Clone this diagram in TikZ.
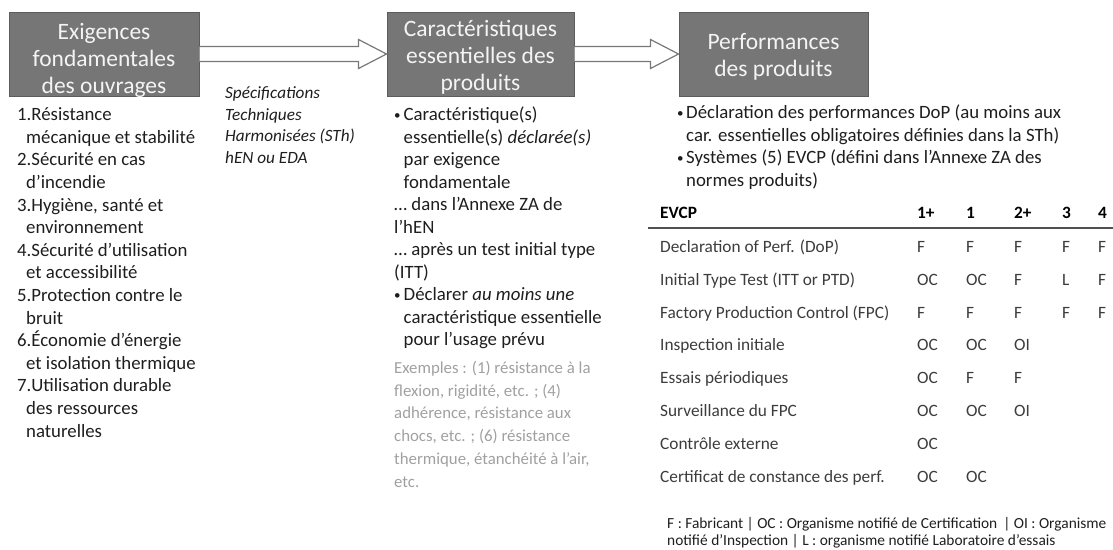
\documentclass[tikz,border=0pt]{standalone}
\usepackage{fontspec}
\setmainfont{Carlito}
\usetikzlibrary{calc}

\definecolor{boxfill}{RGB}{118,118,118}
\definecolor{boxline}{RGB}{92,92,92}
\definecolor{boxtext}{RGB}{244,244,244}
\definecolor{arrowline}{RGB}{120,120,120}
\definecolor{bodytext}{RGB}{30,30,30}
\definecolor{tabletext}{RGB}{60,60,60}
\definecolor{lighttext}{RGB}{160,160,160}
\definecolor{rulecolor}{RGB}{80,80,80}

% open block arrow from the right side of one box to the left side of the next
\newcommand\drawblockarrow[2]{%
  \filldraw[blockarrow]
    ($(#1.east)+(0,-7.5)$) -- ($(#2.west)+(-28,-7.5)$) -- ($(#2.west)+(-28,-14.5)$)
    -- (#2.west) -- ($(#2.west)+(-28,14.5)$) -- ($(#2.west)+(-28,7.5)$)
    -- ($(#1.east)+(0,7.5)$);}
% small list bullet followed by its indent
\newcommand\listbullet[1]{\makebox[#1][l]{\raisebox{1.2pt}{\fontsize{13}{13}\selectfont •}}}

\begin{document}
\begin{tikzpicture}[x=1pt,y=-1pt,
  headbox/.style={draw=boxline, line width=1pt, fill=boxfill,
    minimum width=#1, minimum height=84pt, inner sep=0pt},
  headtext/.style={anchor=north, inner sep=0pt, align=center, text=boxtext,
    font=\fontsize{23.5}{27}\selectfont},
  blockarrow/.style={draw=arrowline, fill=white, line width=1.2pt, line join=miter},
  bodyblock/.style={anchor=north west, inner sep=0pt, align=left, text=bodytext,
    font=\fontsize{18.8}{#1}\selectfont},
  noteblock/.style={anchor=north west, inner sep=0pt, align=left, text=bodytext,
    font=\fontsize{17.2}{21.8}\selectfont\itshape},
  exampleblock/.style={anchor=north west, inner sep=0pt, align=left, text=lighttext,
    font=\fontsize{16.8}{22.8}\selectfont},
  cell/.style={anchor=base west, inner sep=0pt, text=tabletext,
    font=\fontsize{17.3}{20}\selectfont},
  headcell/.style={anchor=base west, inner sep=0pt, text=black,
    font=\fontsize{17.3}{20}\selectfont\bfseries},
  legend/.style={anchor=north west, inner sep=0pt, align=left, text=bodytext,
    font=\fontsize{15.4}{17}\selectfont},
  tablerule/.style={draw=rulecolor, line width=1.6pt}
]
\useasboundingbox (0,0) rectangle (1113,549);

% the three heading boxes
\node[headbox=190pt] (exig) at (104,54) {};
\node[headbox=187pt] (cara) at (480.5,54) {};
\node[headbox=189pt] (perf) at (773.5,54) {};
\node[headtext] (exig-t) at (104,19) {\rule{0pt}{20pt}Exigences\\fondamentales\\des ouvrages};
\node[headtext] (cara-t) at (480.5,16) {\rule{0pt}{20pt}Caractéristiques\\essentielles des\\produits};
\node[headtext] (perf-t) at (773.5,29) {\rule{0pt}{20pt}Performances\\des produits};

\drawblockarrow{exig}{cara}
\drawblockarrow{cara}{perf}

% basic requirements
\node[bodyblock=22.6] (reqs) at (17,103) {\rule{0pt}{17.5pt}1.Résistance\\
\hspace*{9pt}mécanique et stabilité\\
2.Sécurité en cas\\
\hspace*{9pt}d’incendie\\
3.Hygiène, santé et\\
\hspace*{9pt}environnement\\
4.Sécurité d’utilisation\\
\hspace*{9pt}et accessibilité\\
5.Protection contre le\\
\hspace*{9pt}bruit\\
6.Économie d’énergie\\
\hspace*{9pt}et isolation thermique\\
7.Utilisation durable\\
\hspace*{9pt}des ressources\\
\hspace*{9pt}naturelles};

% harmonised technical specifications
\node[noteblock] (spec) at (225,81.5) {\rule{0pt}{16.5pt}Spécifications\\
Techniques\\
Harmonisées (STh)\\
hEN ou EDA};

% essential characteristics
\node[bodyblock=22.5] (carlist) at (394,103) {\rule{0pt}{17.5pt}\listbullet{9.5pt}Caractéristique(s)\\
\hspace*{9.5pt}essentielle(s) \textit{déclarée(s)}\\
\hspace*{9.5pt}par exigence\\
\hspace*{9.5pt}fondamentale\\
… dans l’Annexe ZA de\\
l’hEN\\
… après un test initial type\\
(ITT)\\
\listbullet{9.5pt}Déclarer \textit{au moins une}\\
\hspace*{9.5pt}caractéristique essentielle\\
\hspace*{9.5pt}pour l’usage prévu};

\node[exampleblock] (examples) at (394,356.5) {\rule{0pt}{16.5pt}Exemples : (1) résistance à la\\
flexion, rigidité, etc. ; (4)\\
adhérence, résistance aux\\
chocs, etc. ; (6) résistance\\
thermique, étanchéité à l’air,\\
etc.};

% product performance
\node[bodyblock=22.6] (perflist) at (677,101) {\rule{0pt}{17.5pt}\listbullet{9pt}Déclaration des performances DoP (au moins aux\\
\hspace*{9pt}car. essentielles obligatoires définies dans la STh)\\
\listbullet{9pt}Systèmes (5) EVCP (défini dans l’Annexe ZA des\\
\hspace*{9pt}normes produits)};

% AVCP table
\node[headcell] (h0) at (660,218.2) {EVCP};
\foreach \t [count=\j] in {1+,1,2+,3,4}{
  \pgfmathsetmacro\cx{{917,966,1014,1062,1098}[\j-1]}
  \node[headcell] (h\j) at (\cx,218.2) {\t};
}
\draw[tablerule] (648,228) -- (1113,228);

\foreach \lab/\a/\b/\c/\d/\e [count=\i] in {
  {Declaration of Perf. (DoP)}/F/F/F/F/F,
  {Initial Type Test (ITT or PTD)}/OC/OC/F/L/F,
  {Factory Production Control (FPC)}/F/F/F/F/F,
  {Inspection initiale}/OC/OC/OI//,
  {Essais périodiques}/OC/F/F//,
  {Surveillance du FPC}/OC/OC/OI//,
  {Contrôle externe}/OC////,
  {Certificat de constance des perf.}/OC/OC///}{
  \pgfmathsetmacro\ry{219.3+32.9*\i}
  \node[cell] (r\i-0) at (660,\ry) {\lab};
  \node[cell] (r\i-1) at (917,\ry) {\a};
  \node[cell] (r\i-2) at (966,\ry) {\b};
  \node[cell] (r\i-3) at (1014,\ry) {\c};
  \node[cell] (r\i-4) at (1062,\ry) {\d};
  \node[cell] (r\i-5) at (1098,\ry) {\e};
}

% legend of the table
\node[legend] (key) at (667,514.2) {\rule{0pt}{14.3pt}F : Fabricant | OC : Organisme notifié de Certification \,| OI : Organisme\\
notifié d’Inspection | L : organisme notifié Laboratoire d’essais};

\end{tikzpicture}
\end{document}
